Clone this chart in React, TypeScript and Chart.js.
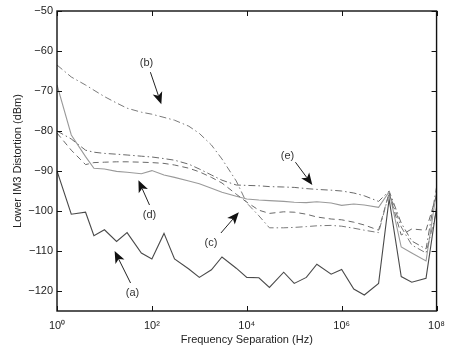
import React, { useEffect, useRef } from "react";
import { Chart, registerables } from "chart.js";

Chart.register(...registerables);

// Frequency separation samples (Hz)
const freqHz = [
  1, 2, 4, 6, 10, 18, 30, 60, 100, 180, 300, 600, 1e3, 1.8e3, 3e3, 6e3, 1e4,
  1.8e4, 3e4, 6e4, 1e5, 1.8e5, 3e5, 6e5, 1e6, 1.8e6, 3e6, 6e6, 1e7, 1.8e7, 3e7,
  6e7, 1e8,
];

// (a) dark solid
const seriesA = [
  -90, -100.8, -100.3, -106.2, -104.7, -107.6, -105.4, -110.5, -112, -105.6,
  -112, -114.5, -116.6, -114.7, -111.5, -114.3, -116.6, -116.7, -119.1, -115.3,
  -118.1, -116.6, -113.3, -115.8, -114.6, -119.5, -121, -118.1, -97, -116.4,
  -117.8, -116.8, -99,
];
// (b) dash-dot, top
const seriesB = [
  -63.5, -66.5, -68.5, -69.8, -71.4, -73, -74.3, -75.3, -75.8, -76.6, -77.3,
  -78.8, -80.6, -83.5, -87, -92.5, -98, -101.2, -104.2, -104.2, -104.1, -103.9,
  -103.7, -103.6, -103.8, -104.3, -104.8, -105.4, -95.5, -104, -108.5, -110.5,
  -100,
];
// (c) dashed
const seriesC = [
  -80.5, -84.8, -88.4, -87.9, -87.8, -87.7, -87.7, -87.8, -87.9, -88.1, -88.5,
  -89.3, -90.2, -91.6, -93, -95.8, -97.8, -99.8, -100.6, -100.2, -100.3,
  -100.8, -101.5, -102, -102.2, -102.8, -103.5, -104.8, -95.5, -106, -104.5,
  -104.8, -96,
];
// (d) light solid
const seriesD = [
  -68.5, -81, -86.4, -89.3, -89.5, -90.1, -90.3, -90.7, -89.9, -91, -91.6,
  -92.5, -93.2, -94.3, -95.3, -96.3, -97, -97.25, -97.4, -97.6, -97.8, -97.9,
  -97.7, -98, -98.6, -98.25, -98.5, -99.1, -95.2, -109, -110.5, -112.5, -95,
];
// (e) dash-dot
const seriesE = [
  -80, -82, -84.8, -85.3, -85.6, -85.8, -86, -86.3, -86.5, -86.9, -87.3, -88.3,
  -89.5, -91, -92.3, -93.5, -93.6, -93.7, -93.9, -94, -94.1, -94.4, -94.6,
  -94.8, -95, -95.5, -96.2, -97.6, -95, -103, -107.5, -109.5, -94,
];

const xTickValues = [1, 1e2, 1e4, 1e6, 1e8];
const xTickLabels = ["10\u2070", "10\u00B2", "10\u2074", "10\u2076", "10\u2078"];
const yTickValues = [-120, -110, -100, -90, -80, -70, -60, -50];

// Annotation labels with arrows, in data coordinates (Hz, dBm)
const annotationLabels = ["(a)", "(b)", "(c)", "(d)", "(e)"];
const annotationText = [
  [39, -120.5],
  [77, -63],
  [1760, -108],
  [89, -101],
  [72000, -86.3],
];
const annotationTail = [
  [35.5, -118],
  [93, -65.3],
  [2850, -105.5],
  [89, -98.5],
  [106000, -87.8],
];
const annotationHead = [
  [16.4, -110],
  [158, -73.3],
  [6800, -100.3],
  [52, -92.3],
  [241000, -93.5],
];

const FONT = "'Liberation Sans', Arial, Helvetica, sans-serif";

const framePlugin = {
  id: "frame",
  afterDatasetsDraw(chart: any) {
    const { ctx, chartArea: a, scales } = chart;
    const x = scales.x;
    const y = scales.y;
    ctx.save();
    ctx.strokeStyle = "#111";
    ctx.lineWidth = 1.4;
    ctx.strokeRect(a.left, a.top, a.right - a.left, a.bottom - a.top);
    ctx.lineWidth = 1;
    const seg = (x1: number, y1: number, x2: number, y2: number) => {
      ctx.beginPath();
      ctx.moveTo(x1, y1);
      ctx.lineTo(x2, y2);
      ctx.stroke();
    };
    xTickValues.forEach((v) => {
      const px = Math.round(x.getPixelForValue(v)) + 0.5;
      seg(px, a.bottom, px, a.bottom - 5);
      seg(px, a.top, px, a.top + 5);
    });
    yTickValues.forEach((v) => {
      const py = Math.round(y.getPixelForValue(v)) + 0.5;
      seg(a.left, py, a.left + 5, py);
      seg(a.right, py, a.right - 5, py);
    });

    // annotations
    ctx.font = `11px ${FONT}`;
    ctx.fillStyle = "#333";
    ctx.textAlign = "center";
    ctx.textBaseline = "middle";
    annotationLabels.forEach((lab, i) => {
      const tx = x.getPixelForValue(annotationText[i][0]);
      const ty = y.getPixelForValue(annotationText[i][1]);
      ctx.fillStyle = "#333";
      ctx.fillText(lab, tx, ty);
      const x1 = x.getPixelForValue(annotationTail[i][0]);
      const y1 = y.getPixelForValue(annotationTail[i][1]);
      const x2 = x.getPixelForValue(annotationHead[i][0]);
      const y2 = y.getPixelForValue(annotationHead[i][1]);
      const ang = Math.atan2(y2 - y1, x2 - x1);
      const hl = 12;
      const hw = 5;
      const bx = x2 - hl * Math.cos(ang);
      const by = y2 - hl * Math.sin(ang);
      ctx.strokeStyle = "#222";
      ctx.lineWidth = 1;
      seg(x1, y1, bx + 3 * Math.cos(ang), by + 3 * Math.sin(ang));
      ctx.fillStyle = "#111";
      ctx.beginPath();
      ctx.moveTo(x2, y2);
      ctx.lineTo(bx - hw * Math.sin(ang), by + hw * Math.cos(ang));
      ctx.lineTo(bx + 3 * Math.cos(ang), by + 3 * Math.sin(ang));
      ctx.lineTo(bx + hw * Math.sin(ang), by - hw * Math.cos(ang));
      ctx.closePath();
      ctx.fill();
    });
    ctx.restore();
  },
};

function toPoints(vals: number[]) {
  return freqHz.map((f, i) => ({ x: f, y: vals[i] }));
}

export default function App() {
  const canvasRef = useRef<HTMLCanvasElement | null>(null);

  useEffect(() => {
    if (!canvasRef.current) return;
    const chart = new Chart(canvasRef.current, {
      type: "line",
      data: {
        datasets: [
          {
            label: "(a)",
            data: toPoints(seriesA),
            borderColor: "#4a4a4a",
            borderWidth: 1.1,
            pointRadius: 0,
            tension: 0,
          },
          {
            label: "(b)",
            data: toPoints(seriesB),
            borderColor: "#7a7a7a",
            borderWidth: 1,
            borderDash: [7, 3, 1.5, 3],
            pointRadius: 0,
            tension: 0,
          },
          {
            label: "(c)",
            data: toPoints(seriesC),
            borderColor: "#6a6a6a",
            borderWidth: 1,
            borderDash: [6, 4],
            pointRadius: 0,
            tension: 0,
          },
          {
            label: "(d)",
            data: toPoints(seriesD),
            borderColor: "#9a9a9a",
            borderWidth: 1.1,
            pointRadius: 0,
            tension: 0,
          },
          {
            label: "(e)",
            data: toPoints(seriesE),
            borderColor: "#6a6a6a",
            borderWidth: 1,
            borderDash: [7, 3, 1.5, 3],
            pointRadius: 0,
            tension: 0,
          },
        ],
      },
      options: {
        responsive: false,
        animation: false,
        events: [],
        layout: { padding: { left: 0, top: 11, right: 14, bottom: 0 } },
        plugins: {
          legend: { display: false },
          tooltip: { enabled: false },
        },
        scales: {
          x: {
            type: "logarithmic",
            min: 1,
            max: 1e8,
            grid: { display: false, drawTicks: false },
            border: { display: false },
            afterBuildTicks: (scale: any) => {
              scale.ticks = xTickValues.map((v) => ({ value: v }));
            },
            afterFit: (scale: any) => {
              scale.height = 39;
            },
            ticks: {
              autoSkip: false,
              maxRotation: 0,
              padding: 8,
              color: "#222",
              font: { family: FONT, size: 11 },
              callback: (value: any) => {
                const idx = xTickValues.indexOf(Number(value));
                return idx >= 0 ? xTickLabels[idx] : "";
              },
            },
            title: {
              display: true,
              text: "Frequency Separation (Hz)",
              color: "#222",
              font: { family: FONT, size: 11 },
              padding: { top: 3, bottom: 3 },
            },
          },
          y: {
            type: "linear",
            min: -125,
            max: -50,
            grid: { display: false, drawTicks: false },
            border: { display: false },
            afterBuildTicks: (scale: any) => {
              scale.ticks = yTickValues.map((v) => ({ value: v }));
            },
            afterFit: (scale: any) => {
              scale.width = 57;
            },
            ticks: {
              padding: 4,
              color: "#222",
              font: { family: FONT, size: 11 },
              callback: (value: any) => String(value).replace("-", "\u2212"),
            },
            title: {
              display: true,
              text: "Lower IM3 Distortion (dBm)",
              color: "#222",
              font: { family: FONT, size: 11 },
              padding: { top: 11, bottom: 4 },
            },
          },
        },
      },
      plugins: [framePlugin],
    });
    return () => chart.destroy();
  }, []);

  return (
    <div
      style={{
        position: "fixed",
        left: 0,
        top: 0,
        width: 453,
        height: 350,
        background: "#fff",
      }}
    >
      <canvas
        ref={canvasRef}
        width={453}
        height={350}
        style={{ display: "block", width: 453, height: 350 }}
      />
    </div>
  );
}
